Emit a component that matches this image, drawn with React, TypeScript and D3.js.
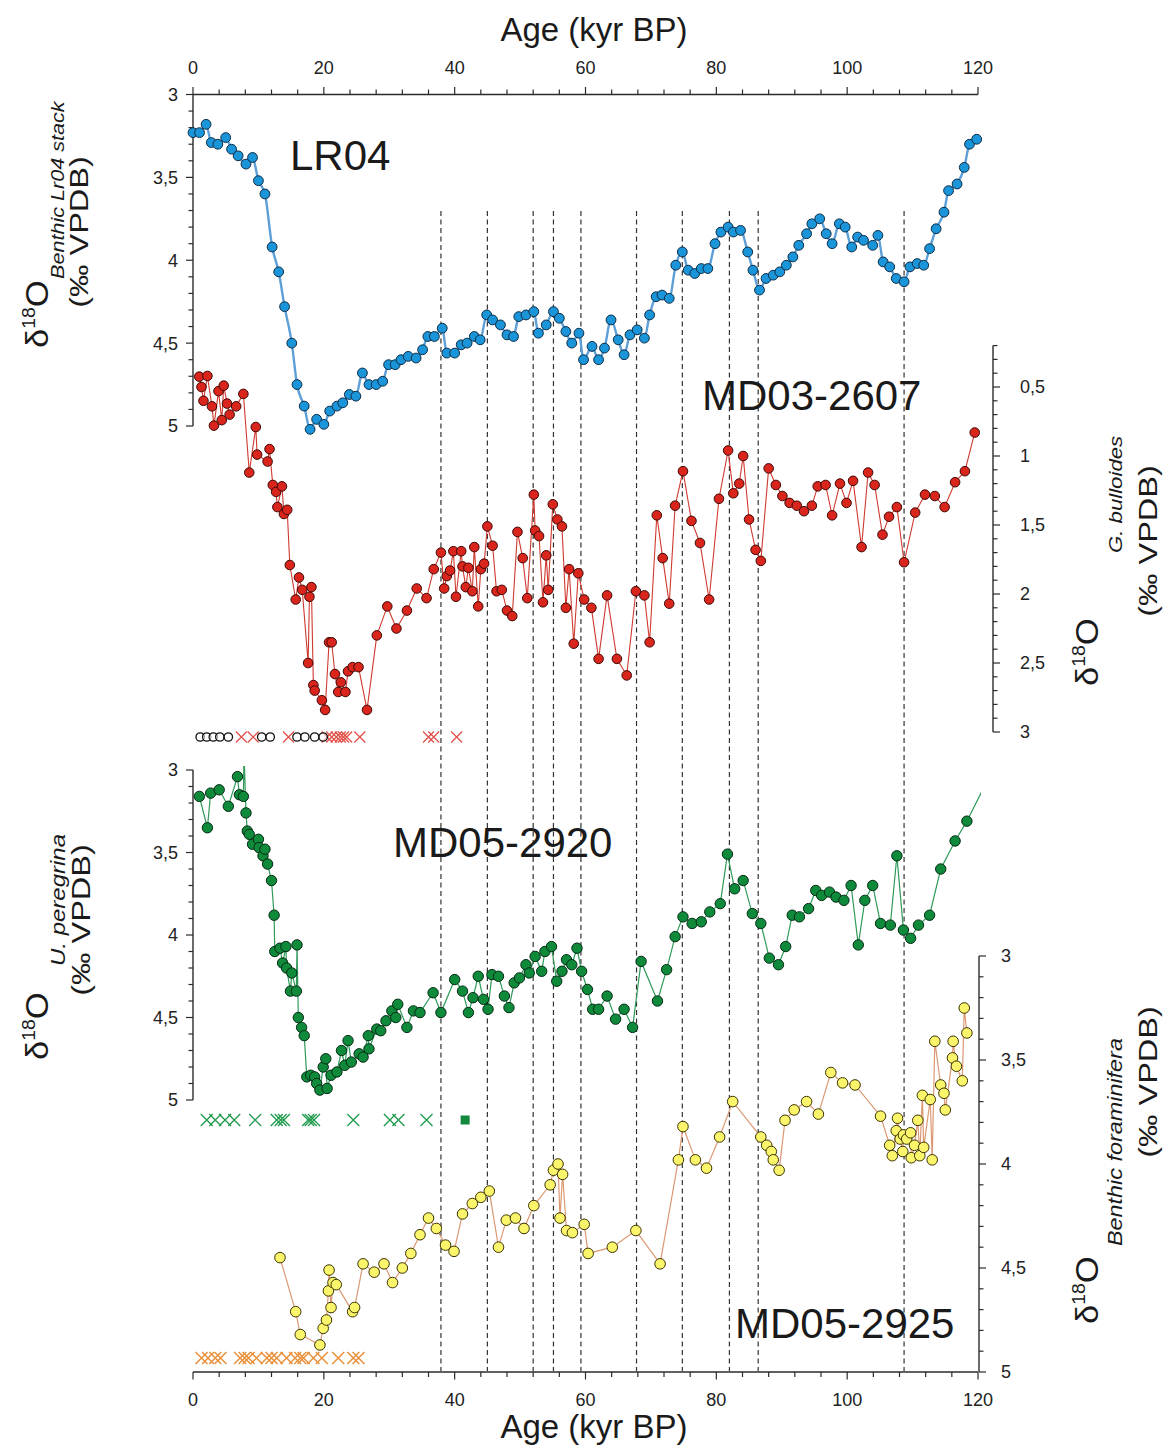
import React from 'react';
import * as d3 from 'd3';

const FONT = "'Liberation Sans', Arial, Helvetica, sans-serif";

// ---- data (age kyr BP, d18O) ----
const lr04: [number, number][] = [
  [0, 3.23], [1, 3.23], [2, 3.18], [2.8, 3.29], [3.8, 3.3], [5, 3.26], [5.9, 3.33], [6.9, 3.37], [8.1, 3.42], [9.1, 3.38],
  [10, 3.52], [11, 3.6], [12.1, 3.92], [13.1, 4.07], [14, 4.28], [15.1, 4.5], [15.9, 4.75], [17, 4.88], [17.9, 5.02], [18.9, 4.96],
  [20, 4.99], [20.9, 4.91], [22, 4.88], [22.9, 4.86], [23.9, 4.81], [24.9, 4.82], [25.9, 4.68], [26.9, 4.75], [28, 4.75], [29, 4.73],
  [29.9, 4.63], [30.9, 4.63], [31.8, 4.6], [32.9, 4.58], [34.1, 4.59], [35.1, 4.54], [35.9, 4.46], [36.9, 4.46], [38.1, 4.41], [38.8, 4.56],
  [40, 4.56], [41, 4.51], [41.9, 4.5], [43, 4.46], [43.9, 4.48], [44.9, 4.33], [45.8, 4.36], [47, 4.39], [48, 4.45], [49, 4.46],
  [49.8, 4.34], [50.9, 4.33], [52.1, 4.31], [52.8, 4.44], [54, 4.39], [55.1, 4.31], [56, 4.35], [57, 4.43], [57.9, 4.5], [59, 4.44],
  [59.7, 4.6], [61, 4.52], [62, 4.6], [62.9, 4.53], [63.9, 4.36], [65, 4.48], [65.9, 4.57], [66.8, 4.45], [67.9, 4.42], [69, 4.47],
  [69.8, 4.33], [70.8, 4.22], [71.7, 4.21], [72.8, 4.23], [73.8, 4.03], [74.8, 3.95], [75.7, 4.06], [76.7, 4.08], [77.7, 4.05], [78.7, 4.05],
  [79.8, 3.9], [80.7, 3.83], [81.8, 3.8], [82.6, 3.83], [83.7, 3.82], [84.8, 3.95], [85.6, 4.06], [86.6, 4.18], [87.6, 4.11], [88.7, 4.09],
  [89.7, 4.07], [90.7, 4.03], [91.7, 3.98], [92.6, 3.91], [93.8, 3.84], [94.6, 3.78], [95.8, 3.75], [96.8, 3.84], [97.7, 3.9], [98.8, 3.78],
  [99.7, 3.8], [100.7, 3.92], [101.6, 3.86], [102.5, 3.88], [103.9, 3.91], [104.7, 3.85], [105.5, 4.01], [106.5, 4.04], [107.5, 4.11], [108.7, 4.13],
  [109.6, 4.04], [110.7, 4.02], [111.7, 4.03], [112.6, 3.93], [113.6, 3.81], [114.8, 3.71], [115.5, 3.58], [116.8, 3.54], [117.9, 3.44], [118.7, 3.3],
  [119.8, 3.27],
];

const md032607: [number, number][] = [
  [0.96, 0.425], [1.3, 0.5], [1.6, 0.6], [2.2, 0.42], [2.9, 0.64], [3.2, 0.78], [3.9, 0.53], [4.4, 0.74], [4.7, 0.49], [5.2, 0.62],
  [5.6, 0.7], [6.6, 0.64], [7.7, 0.55], [8.6, 1.12], [9.6, 0.79], [9.8, 0.99], [11.4, 1.04], [11.7, 0.95], [12.2, 1.21], [12.7, 1.26],
  [12.9, 1.37], [13.6, 1.22], [13.9, 1.42], [14.4, 1.39], [14.8, 1.79], [15.7, 2.04], [16.2, 1.88], [16.7, 1.97], [17.6, 2.5], [17.8, 2.02],
  [18.1, 1.95], [18.4, 2.66], [18.6, 2.7], [19.7, 2.77], [20.2, 2.84], [20.8, 2.35], [21.2, 2.35], [21.7, 2.58], [22.2, 2.71], [22.6, 2.64],
  [23.3, 2.71], [23.7, 2.56], [24.4, 2.53], [25.3, 2.53], [26.6, 2.84], [28.1, 2.3], [29.7, 2.09], [31.1, 2.25], [32.7, 2.12], [34.2, 1.96],
  [35.7, 2.03], [36.8, 1.82], [37.9, 1.7], [38.4, 1.96], [38.8, 1.87], [39.3, 1.83], [39.8, 1.69], [40.2, 2.02], [41, 1.69], [41.2, 1.8],
  [41.7, 1.95], [42.1, 1.81], [42.7, 1.98], [43, 1.66], [43.6, 2.09], [44, 1.82], [44.5, 1.78], [45, 1.51], [45.8, 1.65], [46.4, 1.98],
  [47.2, 1.97], [48, 2.12], [48.8, 2.16], [49.6, 1.55], [50.4, 1.74], [51.1, 2.03], [52.1, 1.28], [52.3, 1.54], [52.9, 1.58], [53.5, 2.06],
  [54, 1.72], [54.3, 1.97], [55, 1.35], [55.7, 1.46], [56.4, 1.51], [57, 2.1], [57.5, 1.82], [58.2, 2.36], [58.9, 1.85], [59.8, 2.04],
  [60.9, 2.1], [62, 2.47], [63.3, 2.01], [64.8, 2.47], [66.3, 2.59], [67.7, 1.98], [69, 2.01], [69.8, 2.35], [70.9, 1.43], [71.8, 1.74],
  [72.8, 2.07], [73.7, 1.36], [74.9, 1.11], [76.2, 1.47], [77.5, 1.63], [78.9, 2.04], [80.4, 1.31], [81.8, 0.96], [82.6, 1.27], [83.5, 1.2],
  [84.1, 1.0], [85, 1.46], [86, 1.68], [86.8, 1.76], [88, 1.09], [89.1, 1.21], [90.1, 1.29], [91.2, 1.34], [92.3, 1.36], [93.4, 1.4],
  [94.6, 1.36], [95.5, 1.22], [96.7, 1.21], [97.7, 1.43], [98.9, 1.2], [99.9, 1.34], [100.9, 1.18], [102.2, 1.66], [103.2, 1.12], [104.2, 1.21],
  [105.4, 1.57], [106.4, 1.44], [107.6, 1.37], [108.7, 1.77], [110.4, 1.41], [111.9, 1.28], [113.4, 1.29], [114.9, 1.37], [116.5, 1.19], [118, 1.11],
  [119.5, 0.83],
];

const md052920: [number, number][] = [
  [0.97, 3.16], [2.2, 3.35], [2.7, 3.14], [4, 3.12], [5.4, 3.22], [6.8, 3.04], [7.1, 3.15], [7.7, 3.16], [7.8, 2.9], [8.1, 3.26],
  [8.3, 3.37], [8.6, 3.39], [9.1, 3.45], [10, 3.42], [10.1, 3.47], [10.7, 3.52], [11, 3.48], [11.4, 3.57], [12, 3.67], [12.4, 3.88],
  [12.5, 4.1], [13.3, 4.08], [13.7, 4.17], [14.2, 4.07], [14.3, 4.2], [14.9, 4.34], [15.1, 4.23], [15.8, 4.34], [15.9, 4.06], [16.1, 4.5],
  [16.6, 4.56], [17, 4.61], [17.4, 4.86], [18, 4.85], [18.6, 4.86], [18.9, 4.9], [19.4, 4.94], [19.9, 4.8], [20.3, 4.75], [20.5, 4.93],
  [21.1, 4.85], [22, 4.83], [22.7, 4.7], [23.2, 4.79], [23.7, 4.64], [24.2, 4.77], [25.4, 4.72], [26, 4.74], [26.8, 4.61], [26.9, 4.69],
  [28.1, 4.57], [28.7, 4.58], [29.5, 4.52], [30.4, 4.46], [31, 4.5], [31.3, 4.42], [32.7, 4.56], [33.7, 4.46], [34.7, 4.47], [36.7, 4.35],
  [37.9, 4.47], [40, 4.27], [41.2, 4.34], [42.1, 4.47], [42.8, 4.38], [43.6, 4.25], [44.4, 4.39], [45.1, 4.45], [45.7, 4.24], [46.7, 4.25],
  [47.6, 4.37], [48.3, 4.44], [49.1, 4.29], [49.9, 4.26], [50.9, 4.18], [51.4, 4.23], [52.3, 4.13], [53.3, 4.22], [53.8, 4.1], [54.8, 4.07],
  [55.6, 4.28], [56.4, 4.22], [57.1, 4.15], [57.9, 4.18], [58.7, 4.08], [59.4, 4.22], [60.3, 4.33], [61.1, 4.45], [62, 4.45], [63.3, 4.37],
  [64.6, 4.51], [65.9, 4.45], [67.2, 4.56], [68.5, 4.16], [71, 4.4], [72.4, 4.21], [73.7, 4.01], [74.9, 3.89], [76.3, 3.93], [77.7, 3.92],
  [79, 3.86], [80.6, 3.81], [81.7, 3.51], [82.8, 3.72], [84.1, 3.67], [85.5, 3.87], [86.8, 3.93], [88.1, 4.14], [89.5, 4.18], [90.6, 4.07],
  [91.6, 3.88], [92.7, 3.89], [94.1, 3.84], [95.2, 3.73], [96.1, 3.76], [97.3, 3.74], [98.3, 3.77], [99.5, 3.79], [100.6, 3.7], [101.7, 4.06],
  [102.7, 3.79], [103.9, 3.7], [105.1, 3.93], [106.6, 3.94], [107.6, 3.52], [108.6, 3.97], [109.7, 4.02], [110.9, 3.94], [112.6, 3.88], [114.3, 3.6],
  [116.5, 3.43], [118.3, 3.31], [121.6, 3.05],
];

const md052925: [number, number][] = [
  [13.3, 4.45], [15.7, 4.71], [16.4, 4.82], [19.4, 4.87], [19.9, 4.79], [20.4, 4.75], [20.7, 4.61], [20.8, 4.51], [21.1, 4.69], [21.4, 4.57],
  [21.9, 4.58], [24.4, 4.71], [24.7, 4.69], [26, 4.48], [27.7, 4.52], [29.2, 4.48], [30.5, 4.57], [32, 4.5], [33.3, 4.43], [34.7, 4.34],
  [36, 4.26], [37.2, 4.31], [38.6, 4.39], [39.9, 4.42], [41.2, 4.24], [42.7, 4.19], [44, 4.16], [45.3, 4.13], [46.7, 4.4], [47.9, 4.27],
  [49.3, 4.26], [50.6, 4.31], [52.1, 4.2], [54.6, 4.1], [55.1, 4.03], [55.8, 4.0], [56.1, 4.26], [56.5, 4.05], [57.1, 4.32], [58, 4.33],
  [59.8, 4.29], [60.4, 4.43], [64.1, 4.4], [67.7, 4.32], [71.4, 4.48], [74.2, 3.98], [74.9, 3.82], [76.8, 3.98], [78.5, 4.02], [80.5, 3.87],
  [82.5, 3.7], [86.8, 3.87], [87.7, 3.91], [88.4, 3.94], [88.7, 3.98], [89.6, 4.03], [90.5, 3.79], [91.9, 3.74], [93.8, 3.7], [95.6, 3.76],
  [97.5, 3.56], [99.3, 3.61], [101.2, 3.62], [105.1, 3.77], [106.5, 3.91], [106.9, 3.96], [107.5, 3.84], [107.7, 3.78], [108.1, 3.88], [108.5, 3.94],
  [108.6, 3.86], [109.1, 3.88], [109.7, 3.85], [109.8, 3.97], [110.3, 3.91], [110.8, 3.79], [111.1, 3.96], [111.5, 3.67], [111.7, 3.92], [112.7, 3.69],
  [113, 3.98], [113.4, 3.41], [114.3, 3.62], [114.8, 3.66], [115, 3.74], [116.1, 3.49], [116.2, 3.41], [116.7, 3.53], [117.6, 3.6], [117.9, 3.25],
  [118.3, 3.37],
];

// dating markers (ages)
const redCircleAges = [1.1, 2.1, 3.1, 4.1, 5.4, 10.5, 11.8, 15.9, 17.1, 18.6, 19.9];
const redCrossAges = [7.4, 9.2, 14.6, 20.5, 21.2, 21.9, 22.5, 23.0, 23.5, 25.5, 36.0, 36.8, 40.3];
const greenCrossAges = [2.1, 3.4, 4.9, 6.3, 9.5, 12.8, 13.4, 13.9, 17.6, 18.0, 18.5, 24.5, 30.1, 31.4, 35.7];
const greenSquareAges = [41.6];
const orangeCrossAges = [1.3, 2.3, 3.4, 4.2, 7.2, 7.9, 8.5, 9.7, 11.3, 12.0, 12.8, 14.3, 15.6, 16.4, 16.9, 18.4, 19.7, 22.2, 24.5, 25.3];

// event lines
const eventAges = [37.9, 45.0, 52.0, 55.1, 59.3, 67.8, 74.8, 82.0, 86.4, 108.7];

// ticks
const ageMinorTicks = d3.range(0, 121, 4);
const ageLabels = [0, 20, 40, 60, 80, 100, 120];
const leftTicks = d3.range(30, 51).map((i) => i / 10);
const leftLabels = [3, 3.5, 4, 4.5, 5];
const redTicks = d3.range(2, 31).map((i) => i / 10);
const redLabels = [0.5, 1, 1.5, 2, 2.5, 3];

const fmt = (v: number) => String(v).replace('.', ',');
const isMajorHalf = (v: number) => Math.abs(v * 2 - Math.round(v * 2)) < 1e-6;

const AX = '#2b2b2b';

function crossPath(s: number) {
  return `M${-s},${-s}L${s},${s}M${-s},${s}L${s},${-s}`;
}

function VAxis({ scale, x0, ticks, labels, side, labelX, domain }: any) {
  const dir = side === 'left' ? -1 : 1;
  return (
    <g>
      <line x1={x0} x2={x0} y1={scale(domain[0])} y2={scale(domain[1])} stroke={AX} strokeWidth={1.4} />
      {ticks.map((t: number) => {
        const len = isMajorHalf(t) ? 7 : 4.5;
        return <line key={t} x1={x0} x2={x0 + dir * len} y1={scale(t)} y2={scale(t)} stroke={AX} strokeWidth={1.2} />;
      })}
      {labels.map((t: number) => (
        <text key={'l' + t} x={labelX} y={scale(t)} dy="0.36em" fontSize={18} fontFamily={FONT} fill="#222"
          textAnchor={side === 'left' ? 'end' : 'start'}>{fmt(t)}</text>
      ))}
    </g>
  );
}

function HAxis({ x, y0, dir, labelY }: any) {
  return (
    <g>
      <line x1={x(0)} x2={x(120)} y1={y0} y2={y0} stroke={AX} strokeWidth={1.4} />
      {ageMinorTicks.map((t) => {
        const len = t % 20 === 0 ? 7.5 : 5;
        return <line key={t} x1={x(t)} x2={x(t)} y1={y0} y2={y0 + dir * len} stroke={AX} strokeWidth={1.2} />;
      })}
      {ageLabels.map((t) => (
        <text key={'l' + t} x={x(t)} y={labelY} fontSize={18} fontFamily={FONT} fill="#222" textAnchor="middle">{t}</text>
      ))}
    </g>
  );
}

function DeltaLabel({ bx, by, sub, subX, subY, subSize, unitX, unitY }: any) {
  return (
    <g fontFamily={FONT} fill="#1a1a1a">
      <text transform={`translate(${bx},${by}) rotate(-90) scale(1.08,1)`}>
        <tspan fontSize={32}>δ</tspan>
        <tspan fontSize={18} dy={-13}>18</tspan>
        <tspan fontSize={32} dy={13}>O</tspan>
      </text>
      <text transform={`translate(${subX},${subY}) rotate(-90) scale(1.2,1)`} fontSize={subSize} fontStyle="italic">{sub}</text>
      <text transform={`translate(${unitX},${unitY}) rotate(-90) scale(1.25,1)`} fontSize={26} textAnchor="middle">(‰ VPDB)</text>
    </g>
  );
}

export default function App() {
  const x = d3.scaleLinear().domain([0, 120]).range([193, 978]);
  const yL = d3.scaleLinear().domain([3, 5]).range([94.5, 426]);
  const yR = d3.scaleLinear().domain([0.5, 3]).range([387, 732]);
  const yG = d3.scaleLinear().domain([3, 5]).range([770, 1100]);
  const yY = d3.scaleLinear().domain([3, 5]).range([956, 1372]);

  const lineL = d3.line<[number, number]>().x((d) => x(d[0])).y((d) => yL(d[1])).curve(d3.curveMonotoneX);
  const lineR = d3.line<[number, number]>().x((d) => x(d[0])).y((d) => yR(d[1]));
  const lineG = d3.line<[number, number]>().x((d) => x(d[0])).y((d) => yG(d[1]));
  const lineY = d3.line<[number, number]>().x((d) => x(d[0])).y((d) => yY(d[1]));

  const rowRed = 737;
  const rowGreen = 1120;
  const rowOrange = 1358;

  return (
    <svg width={1170} height={1455} viewBox="0 0 1170 1455" style={{ position: 'absolute', left: 0, top: 0, background: '#fff' }}>
      <defs>
        <clipPath id="clipG">
          <rect x={185} y={766} width={796} height={345} />
        </clipPath>
      </defs>
      <rect x={0} y={0} width={1170} height={1455} fill="#fff" />

      {/* event lines */}
      {eventAges.map((a) => (
        <line key={a} x1={x(a)} x2={x(a)} y1={211} y2={1371} stroke="#333" strokeWidth={1.2} strokeDasharray="5,3.5" />
      ))}

      {/* axes */}
      <HAxis x={x} y0={94.5} dir={-1} labelY={74} />
      <HAxis x={x} y0={1372} dir={1} labelY={1406} />
      <VAxis scale={yL} x0={193} ticks={leftTicks} labels={leftLabels} side="left" labelX={178} domain={[3, 5]} />
      <VAxis scale={yG} x0={193} ticks={leftTicks} labels={leftLabels} side="left" labelX={178} domain={[3, 5]} />
      <VAxis scale={yR} x0={993} ticks={redTicks} labels={redLabels} side="right" labelX={1020} domain={[0.2, 3]} />
      <VAxis scale={yY} x0={979} ticks={leftTicks} labels={leftLabels} side="right" labelX={1001} domain={[3, 5]} />

      {/* axis titles */}
      <text x={594} y={41} fontSize={33} fontFamily={FONT} textAnchor="middle" fill="#1a1a1a">Age (kyr BP)</text>
      <text x={594} y={1438} fontSize={33} fontFamily={FONT} textAnchor="middle" fill="#1a1a1a">Age (kyr BP)</text>

      <DeltaLabel bx={48} by={348} sub="Benthic Lr04 stack" subSize={18} subX={64} subY={279} unitX={88} unitY={232} />
      <DeltaLabel bx={48} by={1060} sub="U. peregrina" subSize={20} subX={65} subY={966} unitX={90} unitY={920} />
      <DeltaLabel bx={1098} by={686} sub="G. bulloides" subSize={18.5} subX={1122} subY={553} unitX={1157} unitY={541} />
      <DeltaLabel bx={1098} by={1324} sub="Benthic foraminifera" subSize={19.5} subX={1122} subY={1246} unitX={1157} unitY={1082} />

      {/* core names */}
      <g fontFamily={FONT} fontSize={42} fill="#1a1a1a">
        <text x={290} y={170}>LR04</text>
        <text x={702} y={410}>MD03-2607</text>
        <text x={393} y={857}>MD05-2920</text>
        <text x={735} y={1338}>MD05-2925</text>
      </g>

      {/* LR04 */}
      <path d={lineL(lr04) || ''} fill="none" stroke="#5d9fd6" strokeWidth={2.4} />
      {lr04.map((d, i) => (
        <circle key={i} cx={x(d[0])} cy={yL(d[1])} r={4.9} fill="#1b95d9" stroke="#0d2c45" strokeWidth={1} />
      ))}

      {/* MD03-2607 */}
      <path d={lineR(md032607) || ''} fill="none" stroke="#cf3a30" strokeWidth={1.1} />
      {md032607.map((d, i) => (
        <circle key={i} cx={x(d[0])} cy={yR(d[1])} r={4.8} fill="#d9251c" stroke="#3d0805" strokeWidth={1} />
      ))}

      {/* MD05-2920 */}
      <g clipPath="url(#clipG)">
        <path d={lineG(md052920) || ''} fill="none" stroke="#2f9a5a" strokeWidth={1.2} />
        {md052920.map((d, i) => (
          <circle key={i} cx={x(d[0])} cy={yG(d[1])} r={5.2} fill="#0f8a3b" stroke="#032a12" strokeWidth={1} />
        ))}
      </g>

      {/* MD05-2925 */}
      <path d={lineY(md052925) || ''} fill="none" stroke="#dc9873" strokeWidth={1.2} />
      {md052925.map((d, i) => (
        <circle key={i} cx={x(d[0])} cy={yY(d[1])} r={5.3} fill="#fbf56c" stroke="#3b3300" strokeWidth={1} />
      ))}

      {/* dating markers */}
      {redCrossAges.map((a, i) => (
        <path key={'rc' + i} transform={`translate(${x(a)},${rowRed})`} d={crossPath(5.5)} stroke="#e2504a" strokeWidth={1.3} fill="none" />
      ))}
      {redCircleAges.map((a, i) => (
        <circle key={'ro' + i} cx={x(a)} cy={rowRed} r={4.2} fill="#fff" fillOpacity={0.6} stroke="#111" strokeWidth={1.3} />
      ))}
      {greenCrossAges.map((a, i) => (
        <path key={'gc' + i} transform={`translate(${x(a)},${rowGreen})`} d={crossPath(6)} stroke="#1f9a4c" strokeWidth={1.3} fill="none" />
      ))}
      {greenSquareAges.map((a, i) => (
        <rect key={'gs' + i} x={x(a) - 4.5} y={rowGreen - 4.5} width={9} height={9} fill="#13893d" />
      ))}
      {orangeCrossAges.map((a, i) => (
        <path key={'oc' + i} transform={`translate(${x(a)},${rowOrange})`} d={crossPath(6)} stroke="#e8903a" strokeWidth={1.5} fill="none" />
      ))}
    </svg>
  );
}
